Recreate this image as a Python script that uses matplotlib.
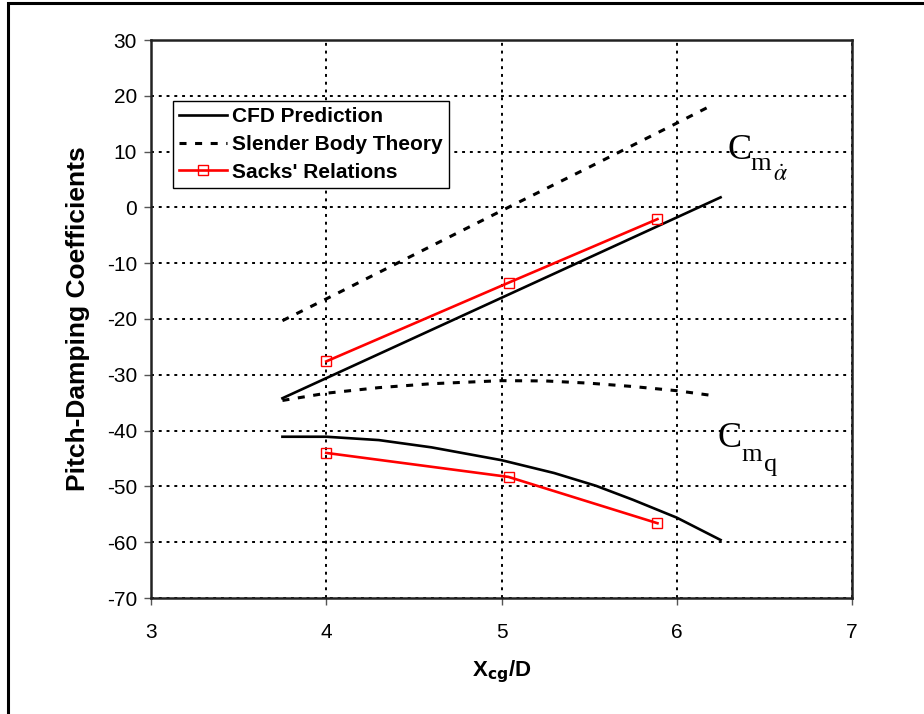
import matplotlib
matplotlib.use("Agg")
import matplotlib.pyplot as plt
from matplotlib.patches import Rectangle

plt.rcParams['font.family'] = ['Liberation Sans', 'DejaVu Sans']
plt.rcParams['mathtext.fontset'] = 'stix'
plt.rcParams['axes.unicode_minus'] = False

# CFD prediction
cfd_x = [3.75, 4.0, 4.5, 5.0, 5.5, 6.0, 6.25]
cfd_cmad = [-34.2, -30.6, -23.4, -16.2, -9.0, -1.8, 1.8]
cfd_cmq_x = [3.75, 4.0, 4.3, 4.6, 5.0, 5.3, 5.54, 5.75, 6.0, 6.25]
cfd_cmq = [-41.1, -41.1, -41.7, -43.0, -45.3, -47.6, -49.9, -52.4, -55.6, -59.6]

# Slender body theory
sbt_x = [3.75, 4.0, 4.5, 5.0, 5.5, 6.0, 6.2]
sbt_cmad = [-20.3, -16.4, -8.5, -0.6, 7.2, 15.1, 18.3]
sbt_cmq_x = [3.75, 4.0, 4.3, 4.6, 5.0, 5.25, 5.5, 5.75, 6.0, 6.2]
sbt_cmq = [-34.6, -33.3, -32.3, -31.6, -31.05, -31.1, -31.5, -32.1, -32.85, -33.7]

# Sacks' relations
sacks_x = [4.0, 5.04, 5.89]
sacks_cmad = [-27.6, -13.5, -2.1]
sacks_cmq = [-44.0, -48.3, -56.6]

xticks = [3, 4, 5, 6, 7]
yticks = [30, 20, 10, 0, -10, -20, -30, -40, -50, -60, -70]

fig = plt.figure(figsize=(9.24, 7.14), dpi=100)
fig.patches.append(Rectangle((8/924, -0.1), 1.2, 1 - 3/714 + 0.1, transform=fig.transFigure,
                             fill=False, edgecolor='black', linewidth=2.2))
ax = fig.add_axes([151/924, 1 - 598/714, 701/924, 558/714])

ax.plot(cfd_x, cfd_cmad, color='black', lw=1.9, label='CFD Prediction', zorder=4)
ax.plot(cfd_cmq_x, cfd_cmq, color='black', lw=1.9, zorder=4)
ax.plot(sbt_x, sbt_cmad, color='black', lw=2.2, dashes=(2.3, 2.8), label='Slender Body Theory', zorder=4)
ax.plot(sbt_cmq_x, sbt_cmq, color='black', lw=2.2, dashes=(2.3, 2.8), zorder=4)
ax.plot(sacks_x, sacks_cmad, color='red', lw=1.9, marker='s', ms=7, mfc='none', mec='red', mew=1.0,
        label="Sacks' Relations", zorder=5)
ax.plot(sacks_x, sacks_cmq, color='red', lw=1.9, marker='s', ms=7, mfc='none', mec='red', mew=1.0, zorder=5)

ax.set_xlim(3, 7)
ax.set_ylim(-70, 30)
ax.set_xticks(xticks)
ax.set_yticks(yticks)
ax.grid(True, color='black', linestyle=(0, (1.5, 2.5)), linewidth=1.4)
for s in ax.spines.values():
    s.set_linewidth(1.8)
    s.set_color('#222222')
ax.tick_params(axis='both', direction='out', length=5, width=1, color='#555555', labelsize=15)
ax.tick_params(axis='y', pad=5)
ax.tick_params(axis='x', pad=13)

ax.set_xlabel(r'X$_{\mathbf{cg}}$/D', fontsize=16, fontweight='bold')
ax.xaxis.label.set_math_fontfamily('dejavusans')
ax.xaxis.set_label_coords(0.5, -0.108)
ax.set_ylabel('Pitch-Damping Coefficients', fontsize=19, fontweight='bold')
ax.yaxis.set_label_coords(-0.087, 0.5)

serif = ['Liberation Serif', 'DejaVu Serif']
# C_m_alphadot
ax.annotate('C', xy=(6.29, 8.7), xytext=(0, 0), textcoords='offset pixels',
            fontsize=26, family=serif, ha='left', va='baseline')
ax.annotate('m', xy=(6.29, 8.7), xytext=(23, -11), textcoords='offset pixels',
            fontsize=19, family=serif, ha='left', va='baseline')
ax.annotate(r'$\dot{\alpha}$', xy=(6.29, 8.7), xytext=(45, -22), textcoords='offset pixels',
            fontsize=17, ha='left', va='baseline')
# C_m_q
ax.annotate('C', xy=(6.235, -42.9), xytext=(0, 0), textcoords='offset pixels',
            fontsize=26, family=serif, ha='left', va='baseline')
ax.annotate('m', xy=(6.235, -42.9), xytext=(23, -14), textcoords='offset pixels',
            fontsize=19, family=serif, ha='left', va='baseline')
ax.annotate('q', xy=(6.235, -42.9), xytext=(46, -24), textcoords='offset pixels',
            fontsize=19, family=serif, ha='left', va='baseline')

leg = ax.legend(loc='upper left', bbox_to_anchor=(0.031, 0.891), fancybox=False, shadow=False,
                framealpha=1, edgecolor='black', prop={'size': 15, 'weight': 'bold'},
                handlelength=2.3, borderaxespad=0, labelspacing=0.42, handletextpad=0.25,
                borderpad=0.3)
leg.get_frame().set_linewidth(1.0)

fig.savefig('out.png', dpi=100)
